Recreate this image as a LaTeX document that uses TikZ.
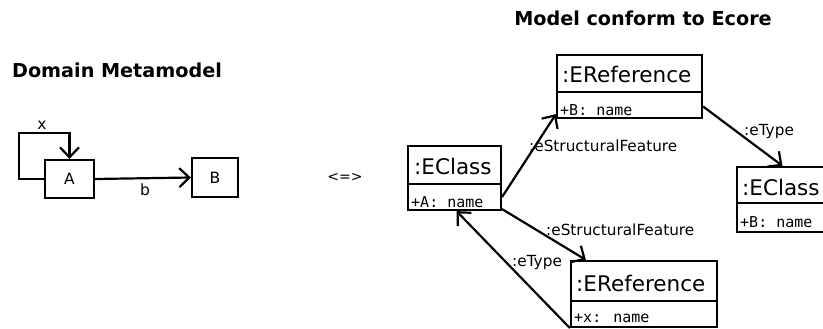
\documentclass[tikz,border=0pt]{standalone}
\usepackage{fontspec}
\setmainfont{DejaVu Sans}
\newfontfamily\monofnt{DejaVu Sans Mono}
\usetikzlibrary{arrows.meta}
\tikzset{
  lw/.style={line width=2.2pt},
  box/.style={draw, lw, inner sep=0pt},
  arr/.style={lw, -{Straight Barb[length=10pt,width=19pt,line width=2.2pt]}},
  heading/.style={font=\bfseries\fontsize{19.2}{23}\selectfont, inner sep=0pt},
  small/.style={font=\fontsize{15.5}{18}\selectfont, inner sep=0pt},
  role/.style={font=\fontsize{15.3}{18}\selectfont, inner sep=0pt, anchor=west},
  ttl/.style={font=\fontsize{21.5}{25}\selectfont, inner sep=0pt, anchor=west},
  attr/.style={font=\monofnt\fontsize{15}{18}\selectfont, inner sep=0pt, anchor=west},
}
\begin{document}
\begin{tikzpicture}[x=1pt,y=-1pt]
\useasboundingbox (0,0) rectangle (823,329);
\clip (0,0) rectangle (823,329);

% headings
\node[heading] (h1) at (117,70) {Domain Metamodel};
\node[heading] (h2) at (643,18) {Model conform to Ecore};

% domain metamodel
\node[box, minimum width=49pt, minimum height=38pt, small] (A) at (69.5,179) {A};
\node[box, minimum width=46pt, minimum height=39pt, small] (B) at (215,177.5) {B};
\coordinate (lp) at (19,133);
\draw[arr] (A.west) -| (lp) -| (A.north);
\node[small] (lx) at (42,125) {x};
\draw[arr] (A.east) -- (B.west);
\node[small] (lb) at (145,190) {b};

\node[font=\fontsize{14}{16}\selectfont, inner sep=0pt] (eq) at (345,177) {<=>};

% EClass left
\node[box, minimum width=93pt, minimum height=64pt] (ec1) at (454.5,178) {};
\draw[lw] (ec1.west |- 0,184) -- (ec1.east |- 0,184);
\node[ttl] (ec1t) at (414,166) {:EClass};
\node[attr] (ec1a) at (411,202) {+A: name};

% EReference top
\node[box, minimum width=145pt, minimum height=63pt] (er1) at (629.5,86.5) {};
\draw[lw] (er1.west |- 0,92) -- (er1.east |- 0,92);
\node[ttl] (er1t) at (562,74) {:EReference};
\node[attr] (er1a) at (560,110) {+B: name};

% EReference bottom
\node[box, minimum width=146pt, minimum height=66pt] (er2) at (644,294) {};
\draw[lw] (er2.west |- 0,301) -- (er2.east |- 0,301);
\node[ttl] (er2t) at (576,283) {:EReference};
\node[attr] (er2a) at (574,318) {+x: name};

% EClass right
\node[box, minimum width=93pt, minimum height=65pt] (ec2) at (783.5,199.5) {};
\draw[lw] (ec2.west |- 0,203) -- (ec2.east |- 0,203);
\node[ttl] (ec2t) at (742,187) {:EClass};
\node[attr] (ec2a) at (740,222) {+B: name};

% connectors
\draw[arr] ([yshift=-19pt]ec1.east) -- ([yshift=5pt]er1.south west);
\node[role] (l1) at (529,146) {:eStructuralFeature};
\draw[arr] ([yshift=-20pt]er1.east) -- ([xshift=-1pt]ec2.north);
\node[role] (l2) at (744,132) {:eType};
\draw[arr] ([yshift=2pt]ec1.south east) -- ([xshift=16pt]er2.north west);
\node[role] (l3) at (546,230) {:eStructuralFeature};
\draw[arr] (er2.south west) -- ([xshift=2pt]ec1.south);
\node[role] (l4) at (512,263) {:eType};
\end{tikzpicture}
\end{document}
